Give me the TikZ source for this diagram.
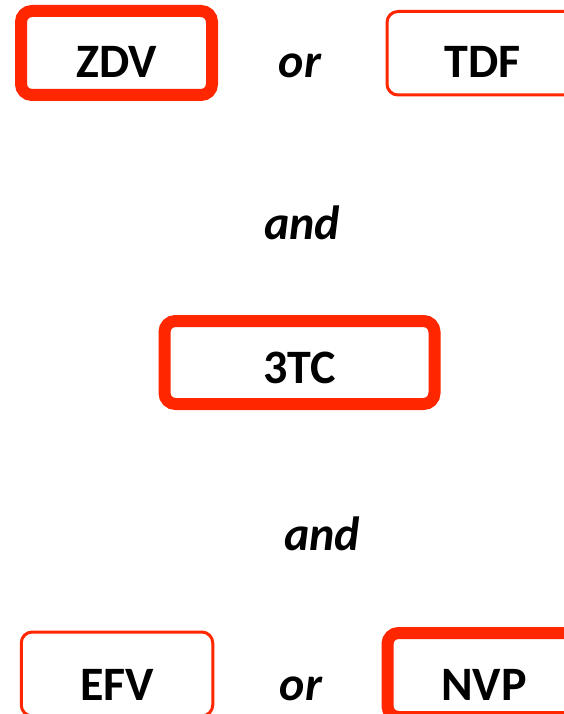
\documentclass[tikz,border=0pt]{standalone}
\usepackage{fontspec}
\setmainfont{Carlito}
\usepackage{xcolor}
\usepackage{tikz}
\definecolor{regred}{RGB}{255,38,0}
\tikzset{
  drug/.style     = {draw=regred, rounded corners=11pt, inner sep=0pt,
                     anchor=base, align=center,
                     font=\fontsize{48}{56}\selectfont\bfseries},
  drugthin/.style = {drug, line width=3pt},
  drugthick/.style= {drug, line width=12pt},
  conj/.style     = {anchor=base, inner sep=0pt,
                     font=\fontsize{48}{56}\selectfont\bfseries\itshape},
}

\begin{document}
\begin{tikzpicture}[x=1pt,y=-1pt]
\clip (0,0) rectangle (564,714);
\fill[white] (0,0) rectangle (564,714);
% first choice
\node[drugthick, minimum width=191pt, text height=67pt, text depth=17pt] (zdv) at (116.5,78) {ZDV};
\node[conj] (or1) at (300,78) {or};
\node[drugthin, minimum width=192pt, text height=66.5pt, text depth=17pt] (tdf) at (483,78) {TDF};
\node[conj] (and1) at (302,239) {and};
% backbone
\node[drugthick, minimum width=270pt, text height=62pt, text depth=21pt] (3tc) at (299.5,383) {3TC};
\node[conj] (and2) at (322,550) {and};
% third drug
\node[drugthin, minimum width=191.5pt, text height=68pt, text depth=16pt] (efv) at (117,700) {EFV};
\node[conj] (or2) at (301,700) {or};
\node[drugthick, minimum width=193pt, text height=67pt, text depth=17pt] (nvp) at (484,700) {NVP};
\end{tikzpicture}
\end{document}
